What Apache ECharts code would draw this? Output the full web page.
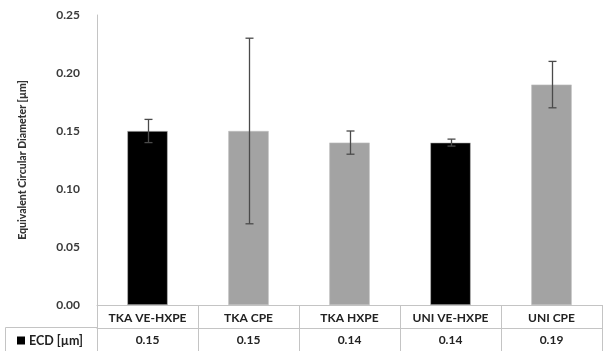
<!DOCTYPE html>
<html>
<head>
<meta charset="utf-8">
<script src="https://cdn.jsdelivr.net/npm/echarts@6/dist/echarts.min.js"></script>
<style>
  html, body { margin: 0; padding: 0; background: #fff; }
  #chart { width: 607px; height: 351px; }
</style>
</head>
<body>
<div id="chart"></div>
<script>
// Particle size per implant group
const categories = ['TKA VE-HXPE', 'TKA CPE', 'TKA HXPE', 'UNI VE-HXPE', 'UNI CPE'];
const ecdValues = [0.15, 0.15, 0.14, 0.14, 0.19];
const errLow = [0.14, 0.07, 0.13, 0.137, 0.17];
const errHigh = [0.16, 0.23, 0.15, 0.143, 0.21];
const barColors = ['#000000', '#a3a3a3', '#a3a3a3', '#000000', '#a3a3a3'];

const FONT = 'Lato';
const TXT = '#3a3a3a';
const GRIDLINE = '#c4c4c4';

const chart = echarts.init(document.getElementById('chart'), null, { renderer: 'canvas' });

chart.setOption({
  animation: false,
  backgroundColor: '#ffffff',
  textStyle: { fontFamily: FONT },
  grid: { left: 97, right: 5, top: 15, bottom: 46 },
  legend: {
    data: [{ name: 'ECD [µm]', icon: 'rect' }],
    left: 17, top: 334,
    itemWidth: 8, itemHeight: 8, itemGap: 0,
    selectedMode: false,
    padding: 0,
    textStyle: { fontFamily: FONT, fontWeight: 'bold', fontSize: 12.5, color: '#222', padding: [0, 0, 0, -1] }
  },
  xAxis: [
    {
      type: 'category',
      data: categories,
      position: 'bottom',
      axisLine: { lineStyle: { color: GRIDLINE, width: 1 } },
      axisTick: { show: true, length: 46, lineStyle: { color: GRIDLINE } },
      axisLabel: { interval: 0, fontFamily: FONT, fontWeight: 'bold', fontSize: 12, color: '#222', margin: 7 }
    },
    {
      type: 'category',
      data: ecdValues.map(v => v.toFixed(2)),
      position: 'bottom',
      offset: 23,
      axisLine: { show: true, lineStyle: { color: GRIDLINE, width: 1 } },
      axisTick: { show: false },
      axisLabel: { interval: 0, fontFamily: FONT, fontWeight: 'bold', fontSize: 12, color: '#222', margin: 6 }
    }
  ],
  yAxis: {
    type: 'value',
    min: 0, max: 0.25, interval: 0.05,
    name: 'Equivalent Circular Diameter [µm]',
    nameLocation: 'middle',
    nameGap: 69,
    nameTextStyle: { fontFamily: FONT, fontWeight: 900, fontSize: 10.5, color: '#333' },
    axisLine: { show: true, lineStyle: { color: GRIDLINE } },
    axisTick: { show: false },
    splitLine: { show: false },
    axisLabel: {
      fontFamily: FONT, fontWeight: 'bold', fontSize: 12, color: TXT, margin: 17,
      formatter: v => v.toFixed(2)
    }
  },
  graphic: [
    {
      type: 'polyline',
      shape: { points: [[97, 327.5], [5.5, 327.5], [5.5, 351]] },
      style: { stroke: GRIDLINE, lineWidth: 1, fill: null }
    }
  ],
  series: [
    {
      name: 'ECD [µm]',
      type: 'bar',
      xAxisIndex: 0,
      barWidth: '40%',
      itemStyle: { color: '#000000' },
      data: ecdValues.map((v, i) => ({
        value: v,
        itemStyle: { color: barColors[i], borderColor: '#bdbdbd', borderWidth: 0.6 }
      }))
    },
    {
      name: 'error',
      type: 'custom',
      xAxisIndex: 0,
      z: 5,
      data: categories.map((c, i) => [i, errLow[i], errHigh[i]]),
      renderItem: function (params, api) {
        const lo = api.coord([api.value(0), api.value(1)]);
        const hi = api.coord([api.value(0), api.value(2)]);
        const x = Math.round(lo[0]) + 0.5;
        const cap = 4;
        const st = { stroke: '#4a4a4a', lineWidth: 1.3 };
        return {
          type: 'group',
          children: [
            { type: 'line', shape: { x1: x, y1: lo[1], x2: x, y2: hi[1] }, style: st },
            { type: 'line', shape: { x1: x - cap, y1: lo[1], x2: x + cap, y2: lo[1] }, style: st },
            { type: 'line', shape: { x1: x - cap, y1: hi[1], x2: x + cap, y2: hi[1] }, style: st }
          ]
        };
      }
    }
  ]
});
</script>
</body>
</html>
